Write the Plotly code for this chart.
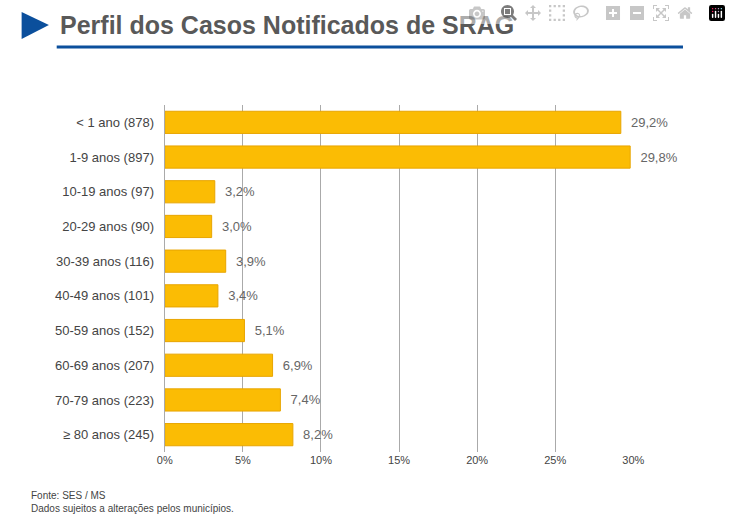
import plotly.graph_objects as go

categories = ["< 1 ano (878)", "1-9 anos (897)", "10-19 anos (97)", "20-29 anos (90)",
              "30-39 anos (116)", "40-49 anos (101)", "50-59 anos (152)", "60-69 anos (207)",
              "70-79 anos (223)", "≥ 80 anos (245)"]
values = [29.2, 29.8, 3.2, 3.0, 3.9, 3.4, 5.1, 6.9, 7.4, 8.2]
labels = ["29,2%", "29,8%", "3,2%", "3,0%", "3,9%", "3,4%", "5,1%", "6,9%", "7,4%", "8,2%"]
ticks = [0, 5, 10, 15, 20, 25, 30]
tick_text = ["0%", "5%", "10%", "15%", "20%", "25%", "30%"]

W, H = 731, 521
fig = go.Figure(go.Bar(
    y=categories, x=values, orientation="h",
    marker=dict(color="#FBBC04", line=dict(color="#E8A500", width=1)),
    width=0.64, text=["  " + l for l in labels], textposition="outside", cliponaxis=False,
    textfont=dict(family="Arial", size=13, color="#666666"),
))
fig.update_layout(
    width=W, height=H, margin=dict(l=0, r=0, t=0, b=0),
    plot_bgcolor="white", paper_bgcolor="white", showlegend=False,
    font=dict(family="Arial", size=12, color="#444444"),
    xaxis=dict(domain=[161/W, 642/W], range=[0, 30], tickvals=ticks, ticktext=tick_text,
               showgrid=True, gridcolor="#AAAAAA", gridwidth=1, zeroline=False,
               showline=False, tickfont=dict(size=11, color="#444444"), ticks=""),
    yaxis=dict(domain=[1-452/H, 1-105/H], autorange="reversed", showgrid=False,
               showline=True, linecolor="#AAAAAA", ticks="", ticksuffix="  ",
               tickfont=dict(size=13, color="#444444")),
    shapes=[
        dict(type="path", xref="paper", yref="paper",
             path=f"M {14/W},{1-12/H} L {42/W},{1-25/H} L {14/W},{1-39/H} Z",
             fillcolor="#0B4F9C", line=dict(width=0)),
        dict(type="line", xref="paper", yref="paper", x0=50/W, x1=693/W,
             y0=1-47/H, y1=1-47/H, line=dict(color="#0B4F9C", width=3)),
    ],
    annotations=[
        dict(text="<b>Perfil dos Casos Notificados de SRAG</b>", xref="paper", yref="paper",
             x=51/W, y=1-25/H, xanchor="left", yanchor="middle", showarrow=False,
             font=dict(family="Arial", size=25, color="#595959")),
        dict(text="Fonte: SES / MS<br>Dados sujeitos a alterações pelos municípios.",
             xref="paper", yref="paper", x=22/W, y=1-488/H, xanchor="left", yanchor="top",
             align="left", showarrow=False, font=dict(family="Arial", size=10, color="#444444")),
    ],
)
fig.write_html("out.html")
with open("out.html", encoding="utf-8") as f:
    html = f.read()
html = html.replace("<head>", "<head><style>html,body{margin:0;padding:0;overflow:hidden;}</style>", 1)
with open("out.html", "w", encoding="utf-8") as f:
    f.write(html)
